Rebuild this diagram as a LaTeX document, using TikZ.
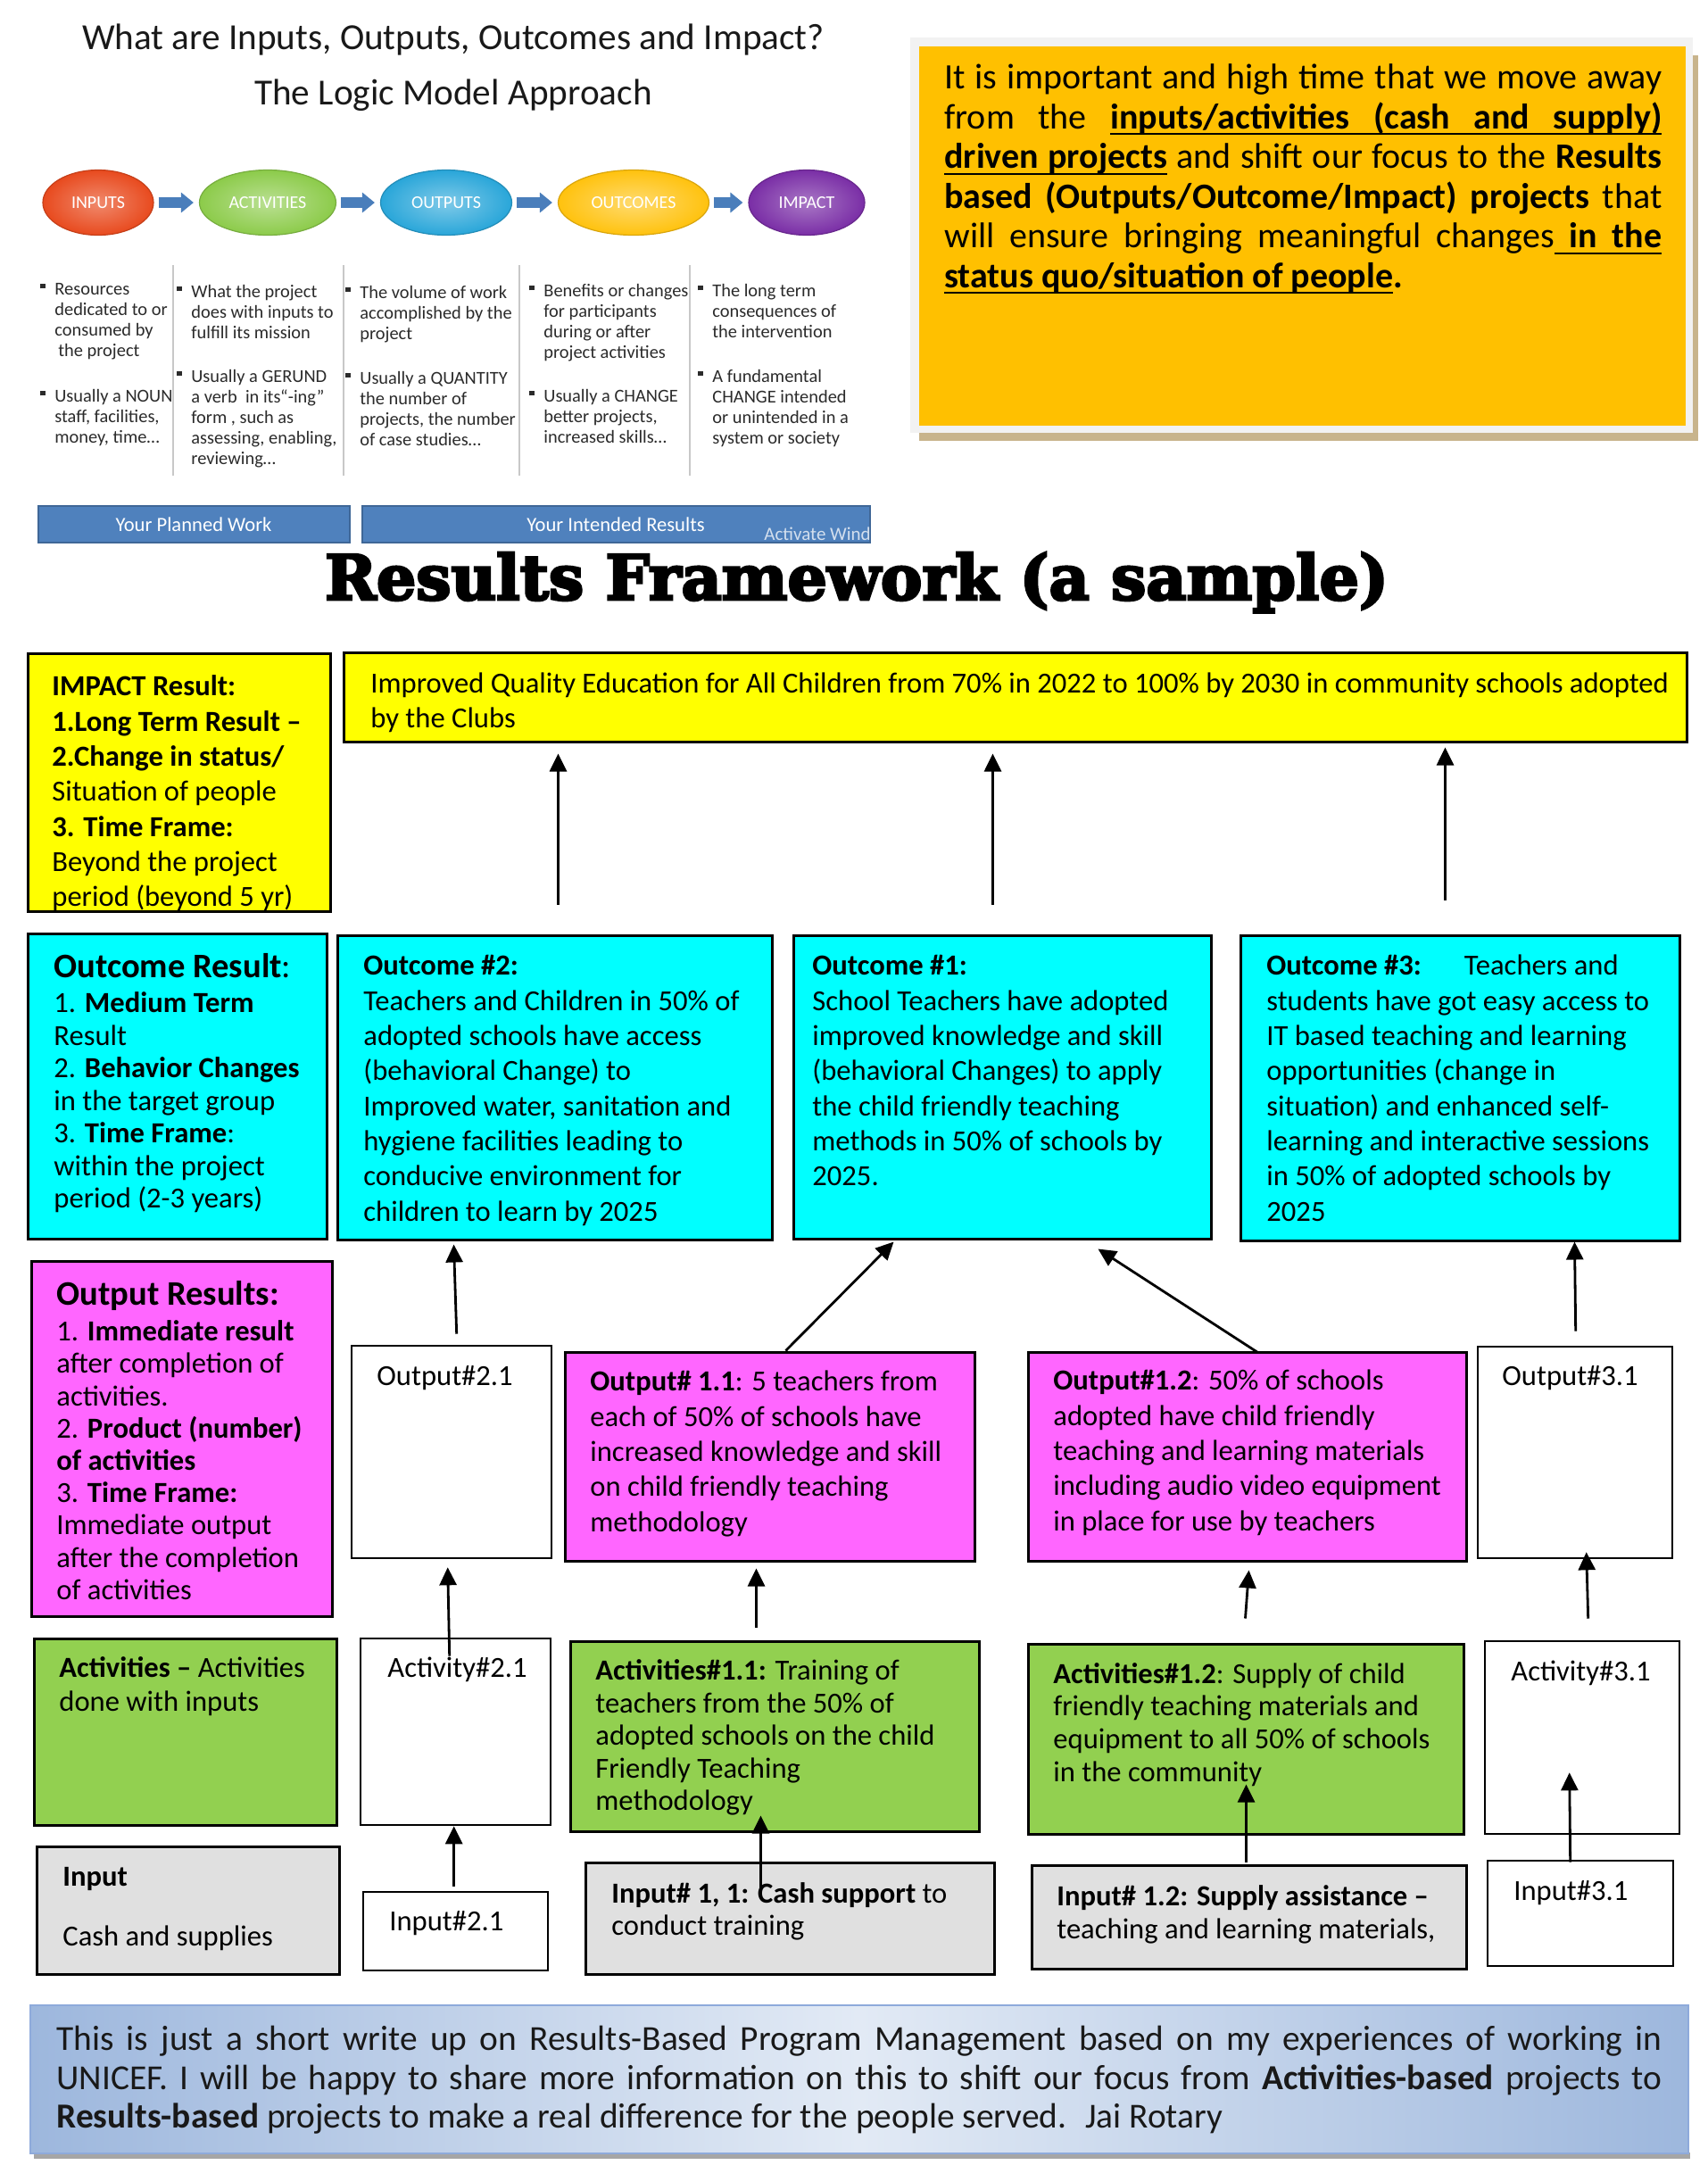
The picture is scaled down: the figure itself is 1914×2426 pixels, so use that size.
\documentclass[tikz,border=0pt]{standalone}
\usepackage{fontspec}
\usepackage{graphicx}
\setmainfont{Carlito}
\newfontfamily\slabfont{DejaVu Serif Bold}[FakeBold=4]
\usetikzlibrary{arrows.meta,shapes.geometric,fit,calc}
\definecolor{cImp}{HTML}{FFFF00}
\definecolor{cOut}{HTML}{00FFFF}
\definecolor{cOp}{HTML}{FF66FF}
\definecolor{cAct}{HTML}{92D050}
\definecolor{cIn}{HTML}{E0E0E0}
\definecolor{cNote}{HTML}{FFC000}
\definecolor{cFrame}{HTML}{F2F2F2}
\definecolor{cTan}{HTML}{C8B48C}
\definecolor{cBar}{HTML}{4F81BD}
\definecolor{cArr}{HTML}{4A7EBB}
\definecolor{cSep}{HTML}{C8C8C8}
\definecolor{cLm}{HTML}{2B2B2B}
\definecolor{eIn}{HTML}{E84A1E}
\definecolor{eAc}{HTML}{8CCB4A}
\definecolor{eOp}{HTML}{29A6D9}
\definecolor{eOc}{HTML}{FFC20E}
\definecolor{eIm}{HTML}{7A2EA6}
\definecolor{bEdge}{HTML}{9DB7DD}
\definecolor{bMid}{HTML}{E2EAF5}
\definecolor{bLine}{HTML}{8EAADB}
\newcommand\fs[2]{\fontsize{#1}{#2}\selectfont}
\newcommand\lmb{\llap{\rule[3.6pt]{2.6pt}{2.6pt}\hspace{5.4pt}}}
\newcommand\uw[1]{\setbox0\hbox{#1}\rlap{\rule[-3.5pt]{\wd0}{1pt}}\box0}
\newcommand\usp{\leaders\hrule height -2.5pt depth 3.5pt\hskip\fontdimen2\font plus\fontdimen3\font minus\fontdimen4\font\relax}
\begin{document}
\begin{tikzpicture}[x=0.5pt,y=-0.5pt,
  box/.style={inner sep=0pt, draw=black, line width=1.5pt},
  wbox/.style={inner sep=0pt, draw=black, line width=1.3pt, fill=white},
  tx/.style={anchor=north west, inner sep=0pt, align=left, font=\fs{16.3}{19.65}},
  hd/.style={anchor=north west, inner sep=0pt, align=left, font=\fs{19.3}{23}},
  lm/.style={anchor=north west, inner sep=0pt, align=left, font=\fs{10.2}{11.5}, text=cLm},
  ell/.style={ellipse, inner sep=0pt, minimum height=36.5pt, text=white, font=\fs{10}{12}, line width=0.6pt},
  barr/.style={line width=6pt, draw=cArr, -{Triangle[width=11pt,length=7pt]}, shorten <=2.5pt, shorten >=3pt},
  arr/.style={line width=1.4pt, -{Triangle[width=9.5pt,length=10pt]}},
  sepl/.style={draw=cSep, line width=0.8pt},
  bar/.style={inner sep=0pt, fill=cBar, draw=cBar!80!black, line width=0.6pt},
  bartx/.style={inner sep=0pt, text=white, font=\fs{11.3}{13}}]
\useasboundingbox (0,0) rectangle (1914,2426);
\fill[white] (0,0) rectangle (1914,2426);

% ---------- logic model (top left) ----------
\node[font=\fs{20.6}{24}, text=black!90] (t1) at (508,45) {What are Inputs, Outputs, Outcomes and Impact?};
\node[font=\fs{20.6}{24}, text=black!90] (t2) at (508,107) {The Logic Model Approach};

\node[ell, minimum width=62pt, inner color=eIn!65!white, outer color=eIn, draw=eIn!85!black] (eIn) at (110,227) {INPUTS};
\node[ell, minimum width=76.5pt, inner color=eAc!60!white, outer color=eAc, draw=eAc!85!black] (eAc) at (300,227) {ACTIVITIES};
\node[ell, minimum width=73.5pt, inner color=eOp!60!white, outer color=eOp, draw=eOp!85!black] (eOp) at (500,227) {OUTPUTS};
\node[ell, minimum width=84.5pt, inner color=eOc!60!white, outer color=eOc, draw=eOc!85!black] (eOc) at (710,227) {OUTCOMES};
\node[ell, minimum width=65pt, inner color=eIm!65!white, outer color=eIm, draw=eIm!85!black] (eIm) at (904,227) {IMPACT};
\draw[barr] (eIn) -- (eAc);
\draw[barr] (eAc) -- (eOp);
\draw[barr] (eOp) -- (eOc);
\draw[barr] (eOc) -- (eIm);

\draw[sepl] (194,297) -- (194,533);
\draw[sepl] (385,297) -- (385,533);
\draw[sepl] (582,297) -- (582,533);
\draw[sepl] (773,297) -- (773,533);

\node[lm] (c1a) at (61,314) {\strut\lmb Resources\\dedicated to or\\consumed by\\\hspace{2pt}the project};
\node[lm] (c1b) at (61,434) {\strut\lmb Usually a NOUN\\staff, facilities,\\money, time…};
\node[lm] (c2a) at (214,317) {\strut\lmb What the project\\does with inputs to\\fulfill its mission};
\node[lm] (c2b) at (214,412) {\strut\lmb Usually a GERUND\\a verb~ in its“-ing”\\form , such as\\assessing, enabling,\\reviewing…};
\node[lm] (c3a) at (403,318) {\strut\lmb The volume of work\\accomplished by the\\project};
\node[lm] (c3b) at (403,414) {\strut\lmb Usually a QUANTITY\\the number of\\projects, the number\\of case studies…};
\node[lm] (c4a) at (609,316) {\strut\lmb Benefits or changes\\for participants\\during or after\\project activities};
\node[lm] (c4b) at (609,434) {\strut\lmb Usually a CHANGE\\better projects,\\increased skills…};
\node[lm] (c5a) at (798,316) {\strut\lmb The long term\\consequences of\\the intervention};
\node[lm] (c5b) at (798,412) {\strut\lmb A fundamental\\CHANGE intended\\or unintended in a\\system or society};

\node[bar, fit={(43,567) (392,608)}] (pw) {};
\node[bartx] (pw-t) at (217,588) {Your Planned Work};
\node[bar, fit={(406,567) (975,608)}] (ir) {};
\node[bartx] (ir-t) at (690,588) {Your Intended Results};
\begin{scope}
\clip (406,567) rectangle (975,608);
\node[anchor=west, inner sep=0pt, text=white!75!cBar, font=\fs{10.5}{12}] (aw) at (856,598) {Activate Wind};
\end{scope}

% ---------- note box (top right) ----------
\fill[cTan] (1030,62) rectangle (1903,494);
\node[inner sep=0pt, fit={(1020,42) (1897,485)}, fill=cFrame] (frame) {};
\node[inner sep=0pt, fit={(1030,52) (1889,477)}, fill=cNote] (note) {};
\node[anchor=north west, inner sep=0pt, align=left, font=\fs{20}{22.25}] (note-t) at (1058,68) {\strut\makebox[402pt][s]{It is important and high time that we move away}\\
\makebox[402pt][s]{from the \bfseries\uw{inputs/activities}\usp\uw{(cash}\usp\uw{and}\usp\uw{supply)}}\\
\makebox[402pt][s]{\textbf{\uw{driven}\usp\uw{projects}} and shift our focus to the \textbf{Results}}\\
\makebox[402pt][s]{\textbf{based (Outputs/Outcome/Impact) projects} that}\\
\makebox[402pt][s]{will ensure bringing meaningful changes\bfseries\usp\uw{in}\usp\uw{the}}\\
\textbf{\uw{status}\usp\uw{quo/situation}\usp\uw{of}\usp\uw{people}.}};

% ---------- title ----------
\node[anchor=base, inner sep=0pt] (rf) at (960,672) {\resizebox{596pt}{!}{\slabfont Results Framework (a sample)}};

% ---------- framework boxes ----------
\node[box, fit={(31,732) (370,1021)}, fill=cImp] (impl) {};
\begin{scope}
\clip (31,732) rectangle (370,1020);
\node[tx] (impl-t) at (58,752) {\strut\textbf{IMPACT Result:}\\\textbf{1.Long Term Result –}\\\textbf{2.Change in status/}\\Situation of people\\\textbf{3. Time Frame:}\\Beyond the project\\period (beyond 5 yr)};
\end{scope}
\node[box, fit={(385,731) (1890,831)}, fill=cImp] (imp) {};
\node[tx, font=\fs{16.3}{19.5}] (imp-t) at (415,749) {\strut Improved Quality Education for All Children from 70\% in 2022 to 100\% by 2030 in community schools adopted\\by the Clubs};

\node[box, fit={(31,1046) (366,1388)}, fill=cOut] (ocr) {};
\node[hd] (ocr-h) at (60,1063) {\strut\textbf{Outcome Result}:};
\node[tx, font=\fs{16.3}{18.25}] (ocr-t) at (60,1109) {\strut 1. \textbf{Medium Term}\\Result\\2. \textbf{Behavior Changes}\\in the target group\\3. \textbf{Time Frame}:\\within the project\\period (2-3 years)};

\node[box, fit={(378,1048) (865,1389)}, fill=cOut] (oc2) {};
\node[tx] (oc2-t) at (407,1065) {\strut\textbf{Outcome \#2:}\\Teachers and Children in 50\% of\\adopted schools have access\\(behavioral Change) to\\Improved water, sanitation and\\hygiene facilities leading to\\conducive environment for\\children to learn by 2025};

\node[box, fit={(889,1048) (1357,1388)}, fill=cOut] (oc1) {};
\node[tx] (oc1-t) at (910,1065) {\strut\textbf{Outcome \#1:}\\School Teachers have adopted\\improved knowledge and skill\\(behavioral Changes) to apply\\the child friendly teaching\\methods in 50\% of schools by\\2025.};

\node[box, fit={(1390,1048) (1882,1390)}, fill=cOut] (oc3) {};
\node[tx] (oc3-t) at (1419,1065) {\strut\textbf{Outcome \#3:}\hspace{24pt}Teachers and\\students have got easy access to\\IT based teaching and learning\\opportunities (change in\\situation) and enhanced self-\\learning and interactive sessions\\in 50\% of adopted schools by\\2025};

\node[box, fit={(35,1413) (372,1811)}, fill=cOp] (opr) {};
\node[hd] (opr-h) at (63,1430) {\strut\textbf{Output Results:}};
\node[tx, font=\fs{16.3}{18.1}] (opr-t) at (63,1477) {\strut 1. \textbf{Immediate result}\\after completion of\\activities.\\2. \textbf{Product (number)}\\\textbf{of activities}\\3. \textbf{Time Frame:}\\Immediate output\\after the completion\\of activities};

\node[wbox, fit={(394,1508) (618,1746)}] (op21) {};
\node[tx] (op21-t) at (422,1525) {\strut Output\#2.1};
\node[box, fit={(633,1515) (1092,1749)}, fill=cOp] (op11) {};
\node[tx] (op11-t) at (661,1531) {\strut\textbf{Output\# 1.1}: 5 teachers from\\each of 50\% of schools have\\increased knowledge and skill\\on child friendly teaching\\methodology};
\node[box, fit={(1152,1515) (1643,1749)}, fill=cOp] (op12) {};
\node[tx] (op12-t) at (1180,1530) {\strut\textbf{Output\#1.2}: 50\% of schools\\adopted have child friendly\\teaching and learning materials\\including audio video equipment\\in place for use by teachers};
\node[wbox, fit={(1656,1509) (1874,1746)}] (op31) {};
\node[tx] (op31-t) at (1683,1525) {\strut Output\#3.1};

\node[box, fit={(38,1836) (377,2045)}, fill=cAct] (acr) {};
\node[tx, font=\fs{16.3}{19}] (acr-t) at (66,1852) {\strut\textbf{Activities –} Activities\\done with inputs};
\node[wbox, fit={(404,1836) (617,2045)}] (ac21) {};
\node[tx] (ac21-t) at (434,1852) {\strut Activity\#2.1};
\node[box, fit={(639,1839) (1097,2052)}, fill=cAct] (ac11) {};
\node[tx, font=\fs{16.3}{18.25}] (ac11-t) at (667,1857) {\strut\textbf{Activities\#1.1:} Training of\\teachers from the 50\% of\\adopted schools on the child\\Friendly Teaching\\methodology};
\node[box, fit={(1152,1842) (1640,2055)}, fill=cAct] (ac12) {};
\node[tx, font=\fs{16.3}{18.35}] (ac12-t) at (1180,1860) {\strut\textbf{Activities\#1.2}: Supply of child\\friendly teaching materials and\\equipment to all 50\% of schools\\in the community};
\node[wbox, fit={(1664,1839) (1882,2055)}] (ac31) {};
\node[tx] (ac31-t) at (1693,1856) {\strut Activity\#3.1};

\node[box, fit={(41,2069) (380,2212)}, fill=cIn] (inr) {};
\node[tx, font=\fs{16.3}{33.5}] (inr-t) at (70,2066) {\strut\textbf{Input}\\Cash and supplies};
\node[wbox, fit={(407,2120) (614,2208)}] (in21) {};
\node[tx] (in21-t) at (436,2136) {\strut Input\#2.1};
\node[box, fit={(656,2087) (1114,2212)}, fill=cIn] (in11) {};
\node[tx, font=\fs{16.3}{18}] (in11-t) at (685,2107) {\strut\textbf{Input\# 1, 1: Cash support} to\\conduct training};
\node[box, fit={(1156,2090) (1643,2206)}, fill=cIn] (in12) {};
\node[tx, font=\fs{16.3}{18.5}] (in12-t) at (1184,2109) {\strut\textbf{Input\# 1.2: Supply assistance –}\\teaching and learning materials,};
\node[wbox, fit={(1667,2085) (1875,2203)}] (in31) {};
\node[tx] (in31-t) at (1696,2102) {\strut Input\#3.1};

% ---------- connectors ----------
\draw[arr] ($(oc2.north west)+(249,-33)$) -- ($(imp.south west)+(242,12)$);
\draw[arr] ($(oc1.north west)+(225,-33)$) -- ($(imp.south west)+(729,12)$);
\draw[arr] ($(oc3.north west)+(231,-38)$) -- ($(imp.south west)+(1236,5)$);
\draw[arr] ($(op21.north west)+(119,-12)$) -- ($(oc2.south west)+(132,4)$);
\draw[arr] ($(op11.north west)+(249,0)$) -- ($(oc1.south west)+(114,2)$);
\draw[arr] ($(op12.north west)+(259,2)$) -- ($(oc1.south west)+(343,10)$);
\draw[arr] ($(op31.north west)+(111,-16)$) -- ($(oc3.south west)+(376,0)$);
\draw[arr] ($(ac21.north west)+(101,21)$) -- ($(op21.south west)+(109,9)$);
\draw[arr] ($(ac11.north west)+(210,-14)$) -- ($(op11.south west)+(216,7)$);
\draw[arr] ($(ac12.north west)+(245,-27)$) -- ($(op12.south west)+(249,9)$);
\draw[arr] ($(ac31.north west)+(117,-24)$) -- ($(op31.south west)+(123,-8)$);
\draw[arr] ($(in21.north west)+(103,-5)$) -- ($(ac21.south west)+(106,0)$);
\draw[arr] ($(in11.north west)+(198,33)$) -- ($(ac11.south west)+(215,-19)$);
\draw[arr] ($(in12.north west)+(242,-2)$) -- ($(ac12.south west)+(246,-57)$);
\draw[arr] ($(in31.north west)+(94,3)$) -- ($(ac31.south west)+(96,-70)$);

% ---------- bottom note ----------
\fill[black!35] (38,2412) rectangle (1894,2419);
\node[inner sep=0pt, fit={(34,2247) (1892,2413)}, left color=bEdge, right color=bEdge, middle color=bMid, draw=bLine, line width=1pt] (foot) {};
\node[anchor=north west, inner sep=0pt, align=left, font=\fs{19.7}{21.75}, text=black!90] (foot-t) at (63,2267) {\strut\makebox[899.5pt][s]{This is just a short write up on Results-Based Program Management based on my experiences of working in}\\
\makebox[899.5pt][s]{UNICEF. I will be happy to share more information on this to shift our focus from \textbf{Activities-based} projects to}\\
\textbf{Results-based} projects to make a real difference for the people served.~ Jai Rotary};
\end{tikzpicture}
\end{document}
